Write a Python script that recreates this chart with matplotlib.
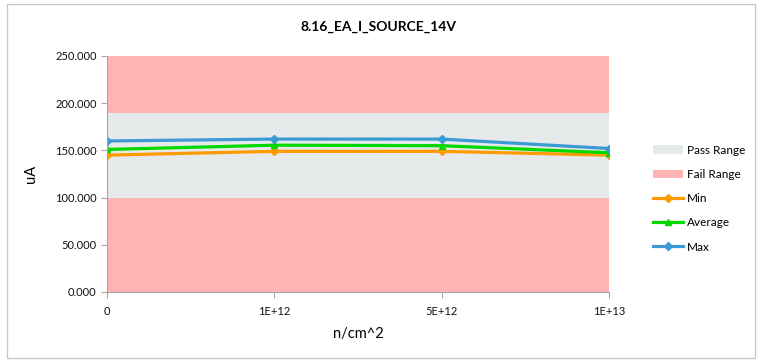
import matplotlib

matplotlib.use("Agg")
import matplotlib.pyplot as plt
import numpy as np
from matplotlib.lines import Line2D
from matplotlib.patches import Patch, Rectangle

plt.rcParams["font.family"] = ["Lato", "DejaVu Sans"]

categories = ["0", "1E+12", "5E+12", "1E+13"]
min_vals = [145, 149, 149, 145]
avg_vals = [151, 155.5, 155, 147.5]
max_vals = [160, 162, 162, 152]
pass_low, pass_high = 100, 190
y_top = 250

FAIL = "#FFB3B3"
PASS = "#E6EAEA"
AXIS = "#A6A6A6"

fig = plt.figure(figsize=(7.57, 3.6), dpi=100)
fig.patches.append(Rectangle((7 / 757, 2 / 360), 748 / 757, 354 / 360,
                             transform=fig.transFigure, fill=False,
                             edgecolor="#C8C8C8", linewidth=1))
ax = fig.add_axes([107 / 757, 1 - 292 / 360, 502 / 757, 236 / 360])

x = np.arange(len(categories))
ax.axhspan(0, pass_low, color=FAIL, lw=0)
ax.axhspan(pass_low, pass_high, color=PASS, lw=0)
ax.axhspan(pass_high, y_top, color=FAIL, lw=0)

ax.plot(x, min_vals, color="#FF9A00", lw=2.3, marker="D", ms=4)
ax.plot(x, avg_vals, color="#00D800", lw=2.3, marker="^", ms=5)
ax.plot(x, max_vals, color="#3B9AD2", lw=2.3, marker="D", ms=4)

ax.set_xlim(0, len(categories) - 1)
ax.set_ylim(0, y_top)
ax.set_xticks(x)
ax.set_xticklabels(categories)
ax.set_yticks(np.arange(0, 251, 50))
ax.set_yticklabels([f"{v:.3f}" for v in range(0, 251, 50)])
ax.tick_params(labelsize=8, colors=AXIS, labelcolor="#111111", length=4)
ax.tick_params(axis="x", pad=6)
for side in ["top", "right"]:
    ax.spines[side].set_visible(False)
for side in ["left", "bottom"]:
    ax.spines[side].set_color(AXIS)

ax.set_xlabel("n/cm^2", fontsize=10.5, labelpad=7)
ax.set_ylabel("uA", fontsize=10.5, labelpad=12)
fig.text(0.5, 1 - 27 / 360, "8.16_EA_I_SOURCE_14V", ha="center", va="center",
         fontsize=10, fontweight="bold")

handles = [
    Patch(facecolor=PASS, edgecolor="none", label="Pass Range"),
    Patch(facecolor=FAIL, edgecolor="none", label="Fail Range"),
    Line2D([], [], color="#FF9A00", lw=2.3, marker="D", ms=4, label="Min"),
    Line2D([], [], color="#00D800", lw=2.3, marker="^", ms=5, label="Average"),
    Line2D([], [], color="#3B9AD2", lw=2.3, marker="D", ms=4, label="Max"),
]
fig.legend(handles=handles, loc="upper left", bbox_to_anchor=(648 / 757, 1 - 140 / 360),
           frameon=False, fontsize=8.5, labelspacing=1.12, handlelength=2.6,
           handletextpad=0.3, borderaxespad=0)

fig.savefig("out.png", dpi=100)
